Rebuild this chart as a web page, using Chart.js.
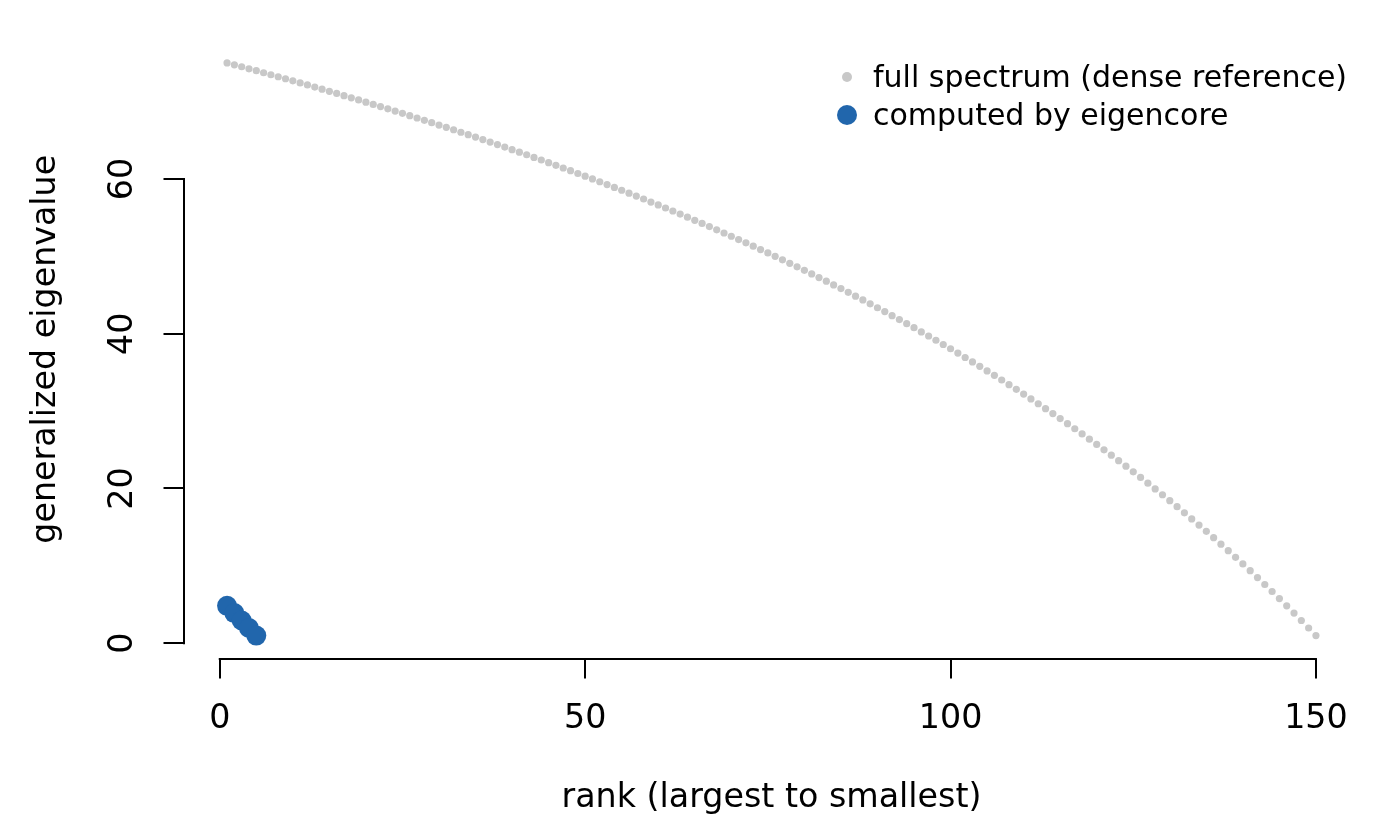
<!DOCTYPE html>
<html>
<head>
<meta charset="utf-8">
<script src="https://cdn.jsdelivr.net/npm/chart.js@4.4.1/dist/chart.umd.min.js"></script>
<style>
  html, body { margin: 0; padding: 0; background: #ffffff; overflow: hidden; }
  canvas { display: block; }
</style>
</head>
<body>
<canvas id="c" width="1400" height="819"></canvas>
<script>
// ---- data ----
const fullSpectrum = [
  75.00, 74.75, 74.50, 74.24, 73.99, 73.73, 73.47, 73.21, 72.95, 72.68,
  72.41, 72.15, 71.88, 71.60, 71.33, 71.05, 70.77, 70.49, 70.21, 69.93,
  69.64, 69.35, 69.06, 68.77, 68.48, 68.18, 67.88, 67.58, 67.28, 66.97,
  66.67, 66.36, 66.04, 65.73, 65.41, 65.09, 64.77, 64.45, 64.12, 63.79,
  63.46, 63.13, 62.79, 62.45, 62.11, 61.76, 61.42, 61.07, 60.71, 60.36,
  60.00, 59.64, 59.27, 58.91, 58.54, 58.16, 57.79, 57.41, 57.02, 56.64,
  56.25, 55.86, 55.46, 55.06, 54.66, 54.26, 53.85, 53.43, 53.02, 52.60,
  52.17, 51.75, 51.32, 50.88, 50.44, 50.00, 49.55, 49.10, 48.65, 48.19,
  47.73, 47.26, 46.79, 46.31, 45.83, 45.35, 44.86, 44.37, 43.87, 43.36,
  42.86, 42.34, 41.83, 41.30, 40.78, 40.24, 39.71, 39.16, 38.61, 38.06,
  37.50, 36.93, 36.36, 35.79, 35.20, 34.62, 34.02, 33.42, 32.81, 32.20,
  31.58, 30.95, 30.32, 29.68, 29.03, 28.38, 27.72, 27.05, 26.37, 25.69,
  25.00, 24.30, 23.60, 22.88, 22.16, 21.43, 20.69, 19.94, 19.19, 18.42,
  17.65, 16.86, 16.07, 15.27, 14.46, 13.64, 12.80, 11.96, 11.11, 10.25,
  9.38, 8.49, 7.59, 6.69, 5.77, 4.84, 3.90, 2.94, 1.97, 0.99
];
const computedRanks = [1, 2, 3, 4, 5];
const computedValues = [4.84, 3.90, 2.94, 1.97, 0.99];

const xTicks = [0, 50, 100, 150];
const yTicks = [0, 20, 40, 60];
const xLimits = [-4.96, 155.96];
const yLimits = [-1.97, 77.96];

const xTitle = 'rank (largest to smallest)';
const yTitle = 'generalized eigenvalue';
const seriesNames = ['full spectrum (dense reference)', 'computed by eigencore'];
const seriesColors = ['#C8C8C8', '#2166AC'];

// ---- chart ----
const FONT = 'DejaVu Sans';
Chart.defaults.font.family = FONT;
Chart.defaults.font.size = 33.3;
Chart.defaults.color = '#000000';

const fullPoints = fullSpectrum.map((v, i) => ({ x: i + 1, y: v }));
const computedPoints = computedValues.map((v, i) => ({ x: computedRanks[i], y: v }));

const axisLines = {
  id: 'axisLines',
  afterDraw(chart) {
    const { ctx, chartArea, scales } = chart;
    const xs = scales.x, ys = scales.y;
    ctx.save();
    ctx.strokeStyle = '#000000';
    ctx.lineWidth = 2;
    ctx.lineCap = 'butt';
    ctx.beginPath();
    const yb = Math.round(chartArea.bottom);
    ctx.moveTo(xs.getPixelForValue(xTicks[0]) - 1, yb);
    ctx.lineTo(xs.getPixelForValue(xTicks[xTicks.length - 1]) + 1, yb);
    const xl = Math.round(chartArea.left);
    ctx.moveTo(xl, ys.getPixelForValue(yTicks[0]) + 1);
    ctx.lineTo(xl, ys.getPixelForValue(yTicks[yTicks.length - 1]) - 1);
    ctx.stroke();

    // legend (no box, top-right)
    const lx = 847;
    const rows = [
      { y: 77, r: 5, color: seriesColors[0], text: seriesNames[0], base: 86.5 },
      { y: 115, r: 10, color: seriesColors[1], text: seriesNames[1], base: 124.5 }
    ];
    ctx.font = '30px "' + FONT + '"';
    ctx.textAlign = 'left';
    ctx.textBaseline = 'alphabetic';
    rows.forEach(row => {
      ctx.fillStyle = row.color;
      ctx.beginPath();
      ctx.arc(lx, row.y, row.r, 0, Math.PI * 2);
      ctx.fill();
      ctx.fillStyle = '#000000';
      ctx.fillText(row.text, 873, row.base);
    });
    ctx.restore();
  }
};

new Chart(document.getElementById('c'), {
  type: 'scatter',
  data: {
    datasets: [
      {
        label: seriesNames[1],
        data: computedPoints,
        backgroundColor: seriesColors[1],
        borderWidth: 0,
        pointRadius: 10,
        pointHoverRadius: 10
      },
      {
        label: seriesNames[0],
        data: fullPoints,
        backgroundColor: seriesColors[0],
        borderWidth: 0,
        pointRadius: 3.6,
        pointHoverRadius: 3.6
      }
    ]
  },
  options: {
    responsive: false,
    devicePixelRatio: 1,
    animation: false,
    events: [],
    layout: { padding: { top: 40, right: 40.5, left: 0, bottom: 0 } },
    plugins: { legend: { display: false }, tooltip: { enabled: false } },
    scales: {
      x: {
        type: 'linear',
        position: 'bottom',
        min: xLimits[0],
        max: xLimits[1],
        afterBuildTicks: s => { s.ticks = xTicks.map(v => ({ value: v })); },
        afterFit: s => { s.height = 160.5; },
        border: { display: false },
        grid: { display: true, drawOnChartArea: false, drawTicks: true, tickLength: 20, color: '#000000', lineWidth: 2 },
        ticks: { padding: 21, maxRotation: 0, minRotation: 0, autoSkip: false, color: '#000000', font: { size: 33.3 } },
        title: { display: true, text: xTitle, color: '#000000', font: { size: 33.3 }, padding: { top: 0, bottom: 1 } }
      },
      y: {
        type: 'linear',
        position: 'left',
        min: yLimits[0],
        max: yLimits[1],
        afterBuildTicks: s => { s.ticks = yTicks.map(v => ({ value: v })); },
        afterFit: s => { s.width = 183.5; },
        border: { display: false },
        grid: { display: true, drawOnChartArea: false, drawTicks: true, tickLength: 20, color: '#000000', lineWidth: 2 },
        ticks: { padding: 19, minRotation: 90, maxRotation: 90, crossAlign: 'center', autoSkip: false, color: '#000000', font: { size: 33.3 } },
        title: { display: true, text: yTitle, color: '#000000', font: { size: 33.3 }, padding: { top: 26, bottom: 0 } }
      }
    }
  },
  plugins: [axisLines]
});
</script>
</body>
</html>
